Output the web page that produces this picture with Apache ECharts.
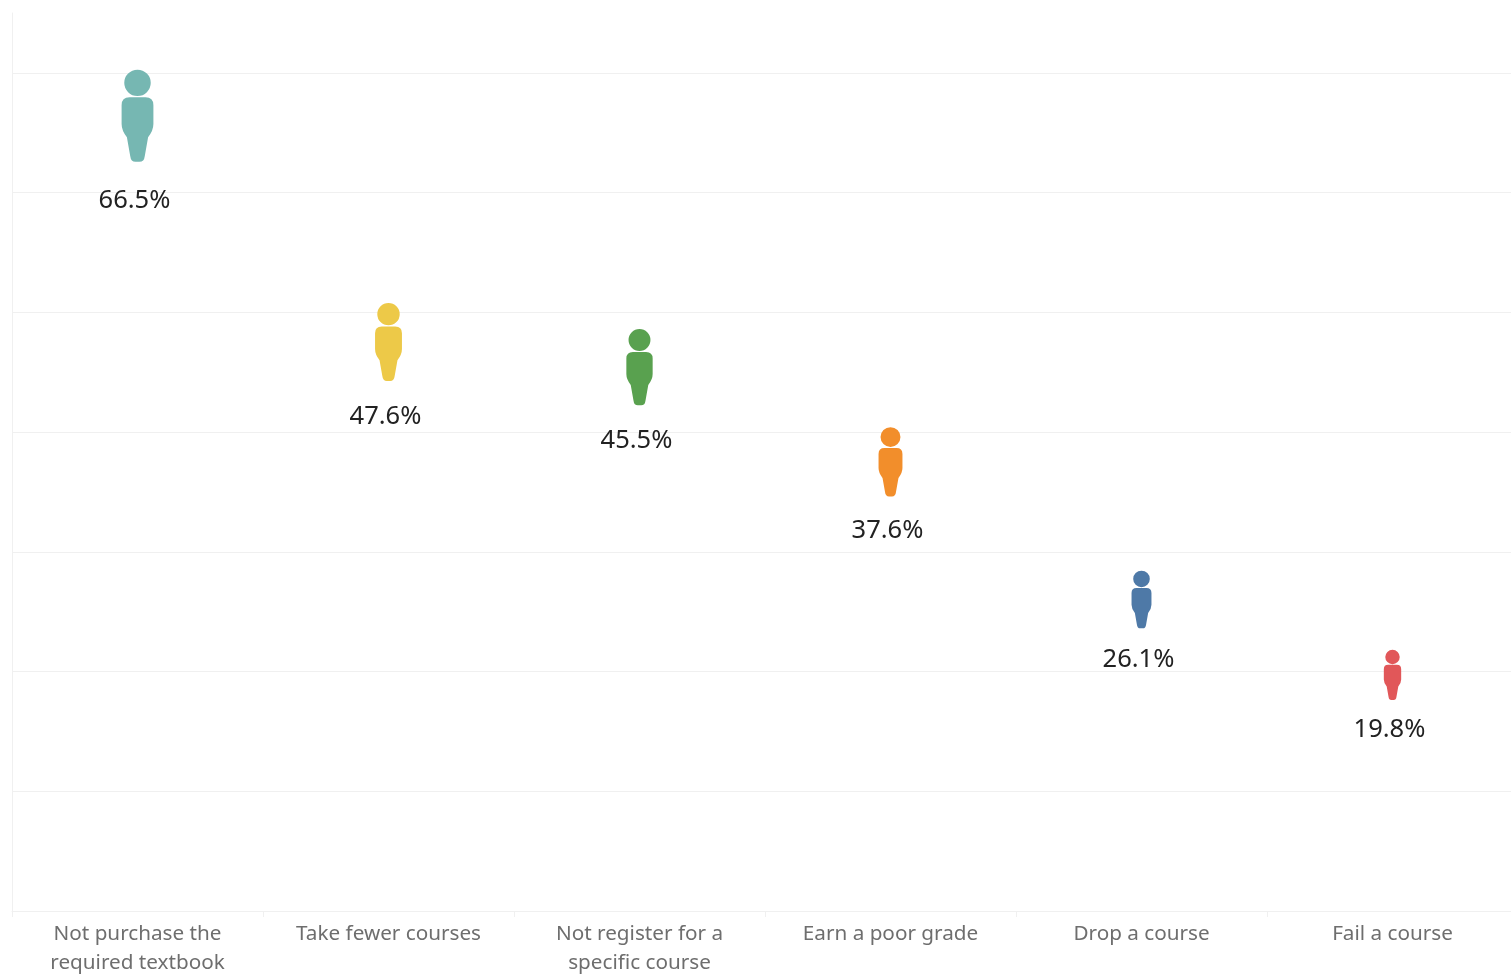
<!DOCTYPE html>
<html>
<head>
<meta charset="utf-8">
<style>
html, body { margin: 0; padding: 0; background: #fff; }
#main { width: 1511px; height: 974px; }
</style>
<script src="https://cdn.jsdelivr.net/npm/echarts@6/dist/echarts.min.js"></script>
</head>
<body>
<div id="main"></div>
<script>
var categories = ['Not purchase the\nrequired textbook', 'Take fewer courses', 'Not register for a\nspecific course', 'Earn a poor grade', 'Drop a course', 'Fail a course'];
var percents = [66.5, 47.6, 45.5, 37.6, 26.1, 19.8];
var colors = ['#76B7B2', '#EDC948', '#59A14F', '#F28E2B', '#4E79A7', '#E15759'];

// person mark, head + body
var PERSON = 'path://M48 0a40 40 0 1 1 -0.01 0z' +
	'M24 84L72 84Q96 84 96 108L96 165Q96 185 80 205L70 262Q68 280 54 280L42 280Q28 280 26 262L16 205Q0 185 0 165L0 108Q0 84 24 84z';

// area follows the value, same as the size shelf in the original
function personHeight(v) {
	return 11.3 * Math.sqrt(v);
}

var points = [];
for (var i = 0; i < percents.length; i++) {
	var h = personHeight(percents[i]);
	points.push({
		value: [categories[i], percents[i]],
		symbolSize: [h * 0.345, h],
		itemStyle: { color: colors[i], opacity: 1 },
		label: { distance: 0.21 * h + 6.5 }
	});
}

var myChart = echarts.init(document.getElementById('main'));
myChart.setOption({
	backgroundColor: '#fff',
	animation: false,
	grid: { left: 12, top: 13, width: 1506, height: 898, outerBoundsMode: 'none' },
	xAxis: {
		type: 'category',
		data: categories,
		axisLine: { show: true, lineStyle: { color: '#f0f0f0', width: 1 } },
		axisTick: { show: true, length: 6, lineStyle: { color: '#f0f0f0' } },
		axisLabel: {
			color: '#6e6e6e',
			fontFamily: '"Noto Sans"',
			fontSize: 20.7,
			lineHeight: 29,
			margin: 9,
			interval: 0
		}
	},
	yAxis: {
		type: 'value',
		min: 0,
		max: 75,
		interval: 10,
		axisLine: { show: true, lineStyle: { color: '#f0f0f0', width: 1 } },
		axisTick: { show: false },
		axisLabel: { show: false },
		splitLine: { show: true, showMaxLine: false, lineStyle: { color: '#f0f0f0', width: 1 } }
	},
	series: [{
		type: 'scatter',
		symbol: PERSON,
		symbolOffset: [0, 1],
		data: points,
		label: {
			show: true,
			position: 'bottom',
			offset: [-3, 0],
			color: '#222',
			fontFamily: '"Noto Sans"',
			fontSize: 25.5,
			formatter: function (p) { return p.value[1].toFixed(1) + '%'; }
		}
	}]
});
</script>
</body>
</html>
